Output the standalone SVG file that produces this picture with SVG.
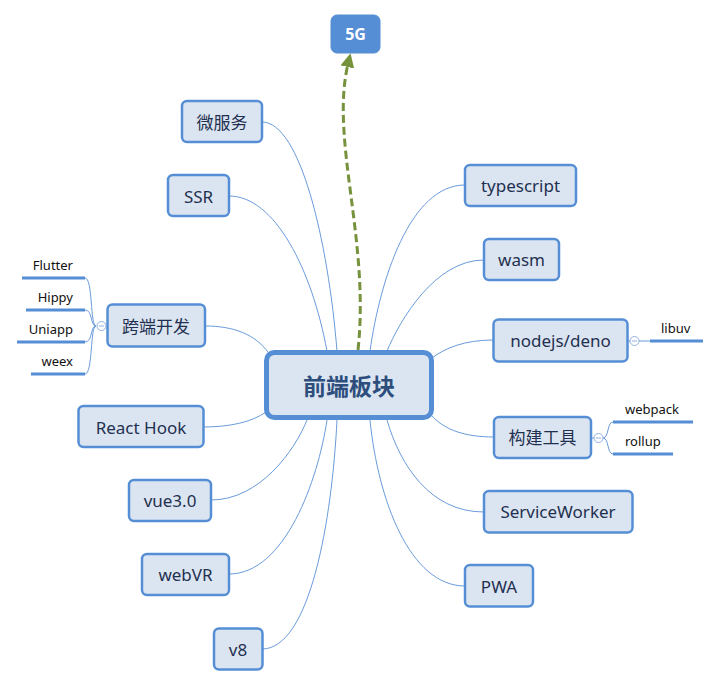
<svg xmlns="http://www.w3.org/2000/svg" width="720" height="686" viewBox="0 0 720 686">
<defs>
<style>
.node rect{fill:#dbe5f1;stroke:#558ed5;stroke-width:2.5}
.node text{font-family:"Noto Sans","Noto Sans CJK SC",sans-serif;font-size:17px;fill:#1f3050;text-anchor:middle;dominant-baseline:central}
.sub text{font-family:"Noto Sans","Noto Sans CJK SC",sans-serif;font-size:13px;fill:#111}
.ul{stroke:#558ed5;stroke-width:3;fill:none}
.conn path{fill:none;stroke:#6a9bdb;stroke-width:1}
.tog circle{fill:#fff;stroke:#8fb1e0;stroke-width:1}
.tog line{stroke:#8fb1e0;stroke-width:1}
</style>
<marker id="arr" markerUnits="userSpaceOnUse" markerWidth="16" markerHeight="16" refX="3" refY="7" orient="auto">
<path d="M0,0 L14,7 L0,14 z" fill="#76923c"/>
</marker>
</defs>
<rect width="720" height="686" fill="#fff"/>
<g id="connectors" class="conn">
<path d="M262,122 C300,122 328,240 337,351"/>
<path d="M229,196 C275,196 312,270 327,351"/>
<path d="M205,326 C235,326 255,335 268,352"/>
<path d="M203,427 C230,427 252,422 266,412"/>
<path d="M211,500 C260,500 295,450 307,420"/>
<path d="M229,574 C285,574 318,480 327,420"/>
<path d="M262,649 C310,649 332,520 337,420"/>
<path d="M465,185 C410,185 380,280 370,351"/>
<path d="M484,260 C435,260 400,320 387,351"/>
<path d="M493,340 C465,340 445,348 432,358"/>
<path d="M494,437 C465,437 445,430 432,416"/>
<path d="M484,512 C430,512 400,465 387,420"/>
<path d="M465,586 C410,586 378,500 370,420"/>
<path d="M96,326 C90,326 93,278 85,278"/>
<path d="M96,326 C90,326 93,310 85,310"/>
<path d="M96,326 C90,326 93,342 85,342"/>
<path d="M96,326 C90,326 93,374 85,374"/>
<path d="M107,326 L106,326"/>
<path d="M628,341 L630,341"/>
<path d="M639,341 L650,341"/>
<path d="M591,438 L594,438"/>
<path d="M603,438 C609,438 607,422 613,422"/>
<path d="M603,438 C609,438 607,454 613,454"/>
<path d="M358,350 C370,240 330,140 348,64" style="stroke:#76923c;stroke-width:3;stroke-dasharray:8,4" marker-end="url(#arr)"/>
</g>
<g id="central" class="node">
<rect x="266.5" y="352.5" width="165" height="65" rx="8" style="stroke-width:5"/>
<text x="349" y="386" style="font-size:23px;font-weight:bold;fill:#2d4e7d">前端板块</text>
</g>
<g id="n5g" class="node">
<rect x="331" y="15" width="49" height="38" rx="6" style="fill:#558ed5;stroke:#558ed5;stroke-width:1"/>
<text x="355.5" y="34" style="font-size:16px;font-weight:bold;fill:#fff">5G</text>
</g>
<g id="weifuwu" class="node"><rect x="182" y="101" width="80" height="41" rx="5"/><text x="222" y="122">微服务</text></g>
<g id="ssr" class="node"><rect x="168" y="175" width="61" height="41" rx="5"/><text x="198.5" y="196">SSR</text></g>
<g id="kuaduan" class="node"><rect x="107.5" y="304.5" width="97.5" height="42" rx="5"/><text x="156" y="326">跨端开发</text></g>
<g id="reacthook" class="node"><rect x="78.5" y="406" width="125" height="41" rx="5"/><text x="141" y="427">React Hook</text></g>
<g id="vue3" class="node"><rect x="129" y="480" width="82" height="41" rx="5"/><text x="170" y="500.5">vue3.0</text></g>
<g id="webvr" class="node"><rect x="142" y="554" width="87" height="41" rx="5"/><text x="185.5" y="574.5">webVR</text></g>
<g id="v8" class="node"><rect x="214" y="628.5" width="48.5" height="41" rx="5"/><text x="238" y="649">v8</text></g>
<g id="typescript" class="node"><rect x="465" y="165" width="111" height="41" rx="5"/><text x="520.5" y="185.5">typescript</text></g>
<g id="wasm" class="node"><rect x="484" y="239" width="75" height="41" rx="5"/><text x="521.5" y="259.5">wasm</text></g>
<g id="nodejs" class="node"><rect x="493.5" y="319.5" width="134" height="42" rx="5"/><text x="560.5" y="340.5">nodejs/deno</text></g>
<g id="goujian" class="node"><rect x="494" y="417" width="97" height="41" rx="5"/><text x="542.5" y="437.5">构建工具</text></g>
<g id="serviceworker" class="node"><rect x="484" y="491" width="148.5" height="41.5" rx="5"/><text x="558" y="511.5">ServiceWorker</text></g>
<g id="pwa" class="node"><rect x="465" y="565" width="68" height="41.5" rx="5"/><text x="499" y="586">PWA</text></g>
<g id="tog1" class="tog"><circle cx="101.5" cy="326" r="4.5"/><line x1="99" y1="326" x2="104" y2="326"/></g>
<g id="tog2" class="tog"><circle cx="634.5" cy="341" r="4.5"/><line x1="632" y1="341" x2="637" y2="341"/></g>
<g id="tog3" class="tog"><circle cx="598.5" cy="438" r="4.5"/><line x1="596" y1="438" x2="601" y2="438"/></g>
<g id="flutter" class="sub"><text x="73" y="270" text-anchor="end">Flutter</text><line class="ul" x1="22" y1="278" x2="85" y2="278"/></g>
<g id="hippy" class="sub"><text x="73" y="302" text-anchor="end">Hippy</text><line class="ul" x1="26" y1="310" x2="85" y2="310"/></g>
<g id="uniapp" class="sub"><text x="73" y="334" text-anchor="end">Uniapp</text><line class="ul" x1="17" y1="342" x2="85" y2="342"/></g>
<g id="weex" class="sub"><text x="73" y="366" text-anchor="end">weex</text><line class="ul" x1="31" y1="374" x2="85" y2="374"/></g>
<g id="libuv" class="sub"><text x="661" y="333">libuv</text><line class="ul" x1="650" y1="341" x2="703" y2="341"/></g>
<g id="webpack" class="sub"><text x="625" y="414">webpack</text><line class="ul" x1="613" y1="422" x2="693" y2="422"/></g>
<g id="rollup" class="sub"><text x="625" y="446">rollup</text><line class="ul" x1="613" y1="454" x2="673" y2="454"/></g>
</svg>
